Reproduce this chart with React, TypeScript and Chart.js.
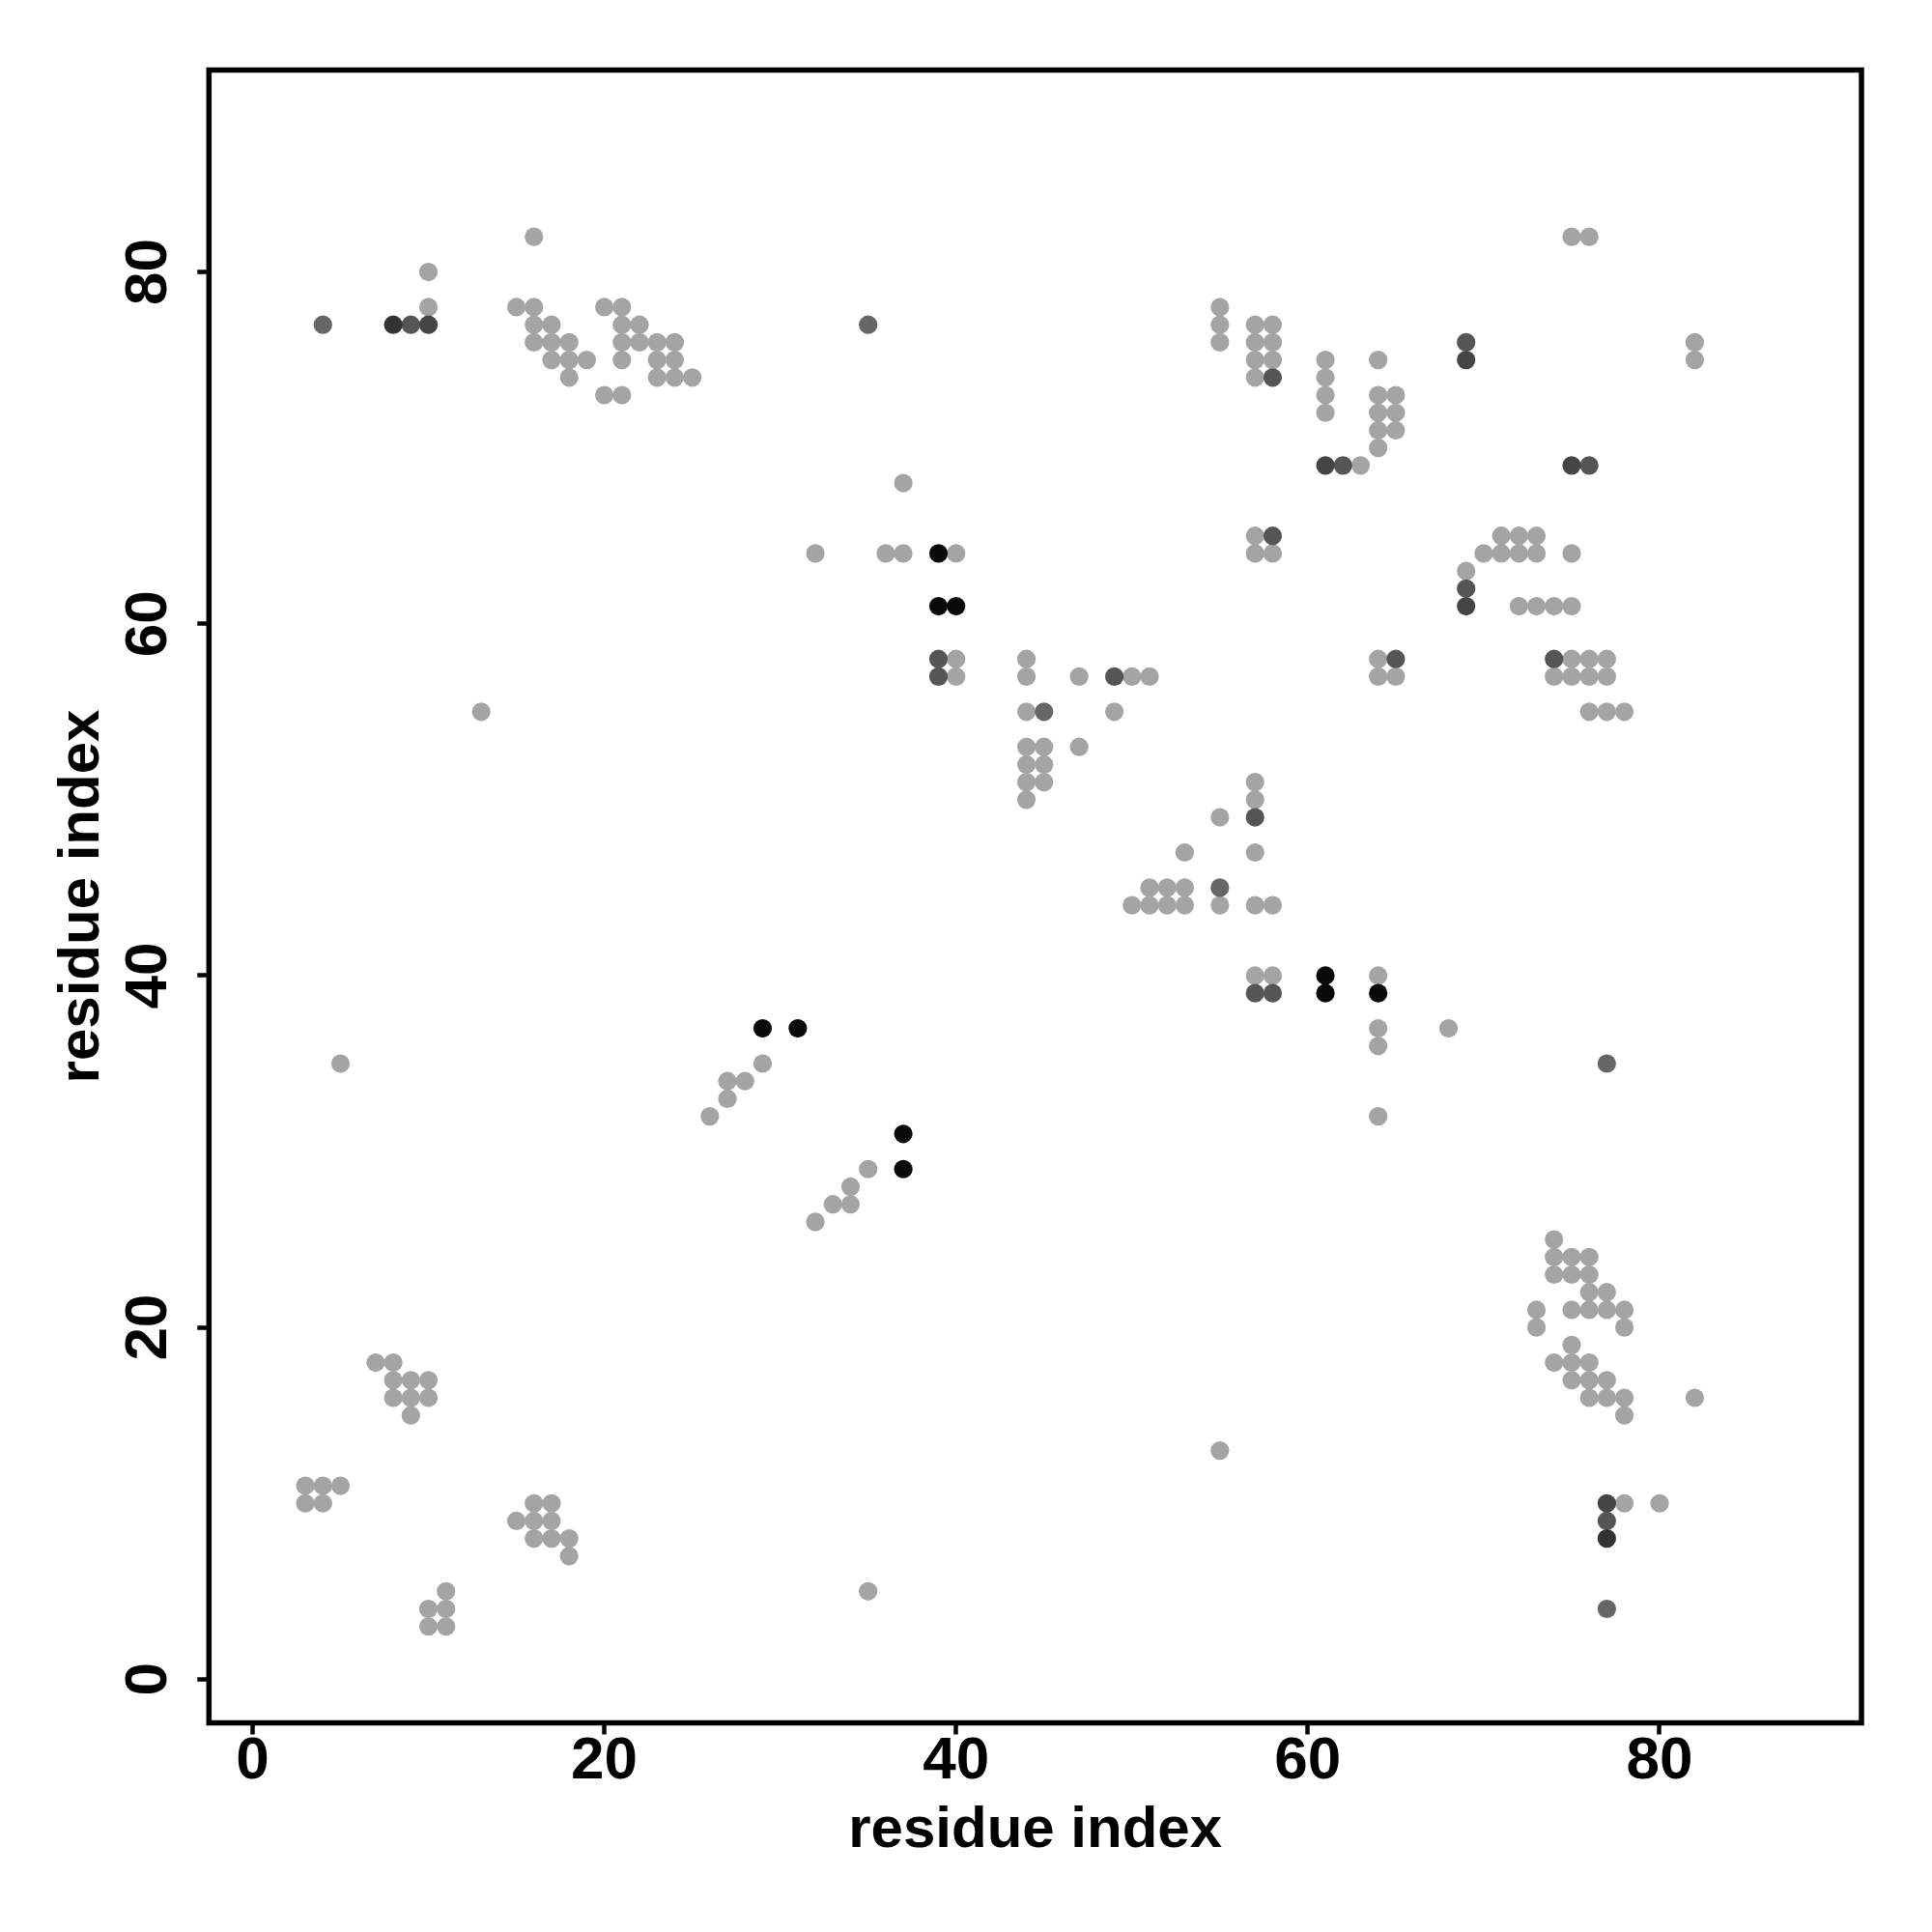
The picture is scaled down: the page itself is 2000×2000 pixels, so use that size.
import React, { useEffect, useRef } from "react";
import { Chart, registerables } from "chart.js";

Chart.register(...registerables);

type Pt = [number, number];

// axis settings
const AXIS_MIN = -2.48;
const AXIS_MAX = 91.48;
const tickValues = [0, 20, 40, 60, 80];
const xAxisTitle = "residue index";
const yAxisTitle = "residue index";

// contacts, grouped by shade (x = residue i, y = residue j)
const lightContacts: Pt[] = [
  [16, 82], [75, 82], [76, 82],
  [10, 80],
  [10, 78], [15, 78], [16, 78], [20, 78], [21, 78], [55, 78],
  [16, 77], [17, 77], [21, 77], [22, 77], [55, 77], [57, 77], [58, 77],
  [16, 76], [17, 76], [18, 76], [21, 76], [22, 76], [23, 76], [24, 76], [55, 76], [57, 76], [58, 76], [82, 76],
  [17, 75], [18, 75], [19, 75], [21, 75], [23, 75], [24, 75], [57, 75], [58, 75], [61, 75], [64, 75], [82, 75],
  [18, 74], [23, 74], [24, 74], [25, 74], [57, 74], [61, 74],
  [20, 73], [21, 73], [61, 73], [64, 73], [65, 73],
  [61, 72], [64, 72], [65, 72],
  [64, 71], [65, 71],
  [64, 70],
  [63, 69],
  [37, 68],
  [57, 65], [71, 65], [72, 65], [73, 65],
  [32, 64], [36, 64], [37, 64], [40, 64], [57, 64], [58, 64], [70, 64], [71, 64], [72, 64], [73, 64], [75, 64],
  [69, 63],
  [72, 61], [73, 61], [74, 61], [75, 61],
  [40, 58], [44, 58], [64, 58], [75, 58], [76, 58], [77, 58],
  [40, 57], [44, 57], [47, 57], [50, 57], [51, 57], [64, 57], [65, 57], [74, 57], [75, 57], [76, 57], [77, 57],
  [13, 55], [44, 55], [49, 55], [76, 55], [77, 55], [78, 55],
  [44, 53], [45, 53], [47, 53],
  [44, 52], [45, 52],
  [44, 51], [45, 51], [57, 51],
  [44, 50], [57, 50],
  [55, 49],
  [53, 47], [57, 47],
  [51, 45], [52, 45], [53, 45],
  [50, 44], [51, 44], [52, 44], [53, 44], [55, 44], [57, 44], [58, 44],
  [57, 40], [58, 40], [64, 40],
  [64, 37], [68, 37],
  [64, 36],
  [5, 35], [29, 35],
  [27, 34], [28, 34],
  [27, 33],
  [26, 32], [64, 32],
  [35, 29],
  [34, 28],
  [33, 27], [34, 27],
  [32, 26],
  [74, 25],
  [74, 24], [75, 24], [76, 24],
  [74, 23], [75, 23], [76, 23],
  [76, 22], [77, 22],
  [73, 21], [75, 21], [76, 21], [77, 21], [78, 21],
  [73, 20], [78, 20],
  [75, 19],
  [7, 18], [8, 18], [74, 18], [75, 18], [76, 18],
  [8, 17], [9, 17], [10, 17], [75, 17], [76, 17], [77, 17],
  [8, 16], [9, 16], [10, 16], [76, 16], [77, 16], [78, 16], [82, 16],
  [9, 15], [78, 15],
  [55, 13],
  [3, 11], [4, 11], [5, 11],
  [3, 10], [4, 10], [16, 10], [17, 10], [78, 10], [80, 10],
  [15, 9], [16, 9], [17, 9],
  [16, 8], [17, 8], [18, 8],
  [18, 7],
  [11, 5], [35, 5],
  [10, 4], [11, 4],
  [10, 3], [11, 3],
];

const gray40Contacts: Pt[] = [
  [4, 77], [35, 77], [45, 55], [55, 45], [77, 35], [77, 4],
];

const gray33Contacts: Pt[] = [
  [9, 77], [58, 74], [69, 76], [62, 69], [76, 69], [58, 65], [69, 62],
  [39, 58], [39, 57], [65, 58], [74, 58], [49, 57], [57, 49],
  [57, 39], [58, 39], [77, 9],
];

const gray27Contacts: Pt[] = [
  [10, 77], [69, 75], [61, 69], [75, 69], [69, 61], [77, 10],
];

const gray20Contacts: Pt[] = [
  [8, 77], [77, 8],
];

const blackContacts: Pt[] = [
  [39, 64], [39, 61], [40, 61], [61, 40], [61, 39], [64, 39],
  [29, 37], [31, 37], [37, 31], [37, 29],
];

const groups: { pts: Pt[]; color: string; order: number }[] = [
  { pts: lightContacts, color: "#a4a4a4", order: 6 },
  { pts: gray40Contacts, color: "#666666", order: 5 },
  { pts: gray33Contacts, color: "#555555", order: 4 },
  { pts: gray27Contacts, color: "#454545", order: 3 },
  { pts: gray20Contacts, color: "#333333", order: 2 },
  { pts: blackContacts, color: "#0a0a0a", order: 1 },
];

const TICK_FONT = "bold 62px 'Liberation Sans', Arial, Helvetica, sans-serif";
const TITLE_FONT = "bold 60px 'Liberation Sans', Arial, Helvetica, sans-serif";

const decorPlugin = {
  id: "decor",
  afterDraw(chart: any) {
    const { ctx, chartArea, scales } = chart;
    const xs = scales.x;
    const ys = scales.y;
    const { left, right, top, bottom } = chartArea;
    ctx.save();
    ctx.strokeStyle = "#000";
    ctx.lineWidth = 5.5;
    ctx.lineJoin = "miter";
    ctx.strokeRect(left, top, right - left, bottom - top);

    ctx.fillStyle = "#000";
    ctx.font = TICK_FONT;
    ctx.textAlign = "center";
    ctx.textBaseline = "alphabetic";
    for (const v of tickValues) {
      ctx.fillText(String(v), xs.getPixelForValue(v), bottom + 57);
    }
    for (const v of tickValues) {
      ctx.save();
      ctx.translate(left - 44.8, ys.getPixelForValue(v));
      ctx.rotate(-Math.PI / 2);
      ctx.fillText(String(v), 0, 0);
      ctx.restore();
    }
    ctx.font = TITLE_FONT;
    ctx.fillText(xAxisTitle, (left + right) / 2, bottom + 128.5);
    ctx.save();
    ctx.translate(left - 114, (top + bottom) / 2);
    ctx.rotate(-Math.PI / 2);
    ctx.fillText(yAxisTitle, 0, 0);
    ctx.restore();
    ctx.restore();
  },
};

export default function App() {
  const canvasRef = useRef<HTMLCanvasElement | null>(null);

  useEffect(() => {
    const canvas = canvasRef.current;
    if (!canvas) return;
    const datasets = groups.map((g) => ({
      data: g.pts.map(([x, y]) => ({ x, y })),
      backgroundColor: g.color,
      borderWidth: 0,
      pointRadius: 9.6,
      pointHoverRadius: 9.6,
      pointBorderWidth: 0,
      order: g.order,
    }));
    const axis = (pos: "bottom" | "left") => ({
      type: "linear" as const,
      position: pos,
      min: AXIS_MIN,
      max: AXIS_MAX,
      afterBuildTicks: (s: any) => {
        s.ticks = tickValues.map((v) => ({ value: v }));
      },
      afterFit: (s: any) => {
        if (pos === "bottom") s.height = 216.5;
        else s.width = 216.3;
      },
      ticks: { display: false },
      border: { display: false },
      grid: {
        display: true,
        drawOnChartArea: false,
        drawTicks: true,
        tickLength: 12,
        tickWidth: 4.5,
        tickColor: "#000",
      },
      title: { display: false },
    });
    const chart = new Chart(canvas, {
      type: "scatter",
      data: { datasets },
      options: {
        animation: false,
        responsive: false,
        devicePixelRatio: 1,
        layout: { padding: { top: 72.5, right: 73, left: 0, bottom: 0 } },
        plugins: { legend: { display: false }, tooltip: { enabled: false } },
        scales: { x: axis("bottom"), y: axis("left") },
      },
      plugins: [decorPlugin],
    });
    return () => chart.destroy();
  }, []);

  return (
    <div style={{ position: "absolute", left: 0, top: 0, width: 2000, height: 2000, background: "#fff" }}>
      <canvas ref={canvasRef} width={2000} height={2000} style={{ display: "block", width: 2000, height: 2000 }} />
    </div>
  );
}
